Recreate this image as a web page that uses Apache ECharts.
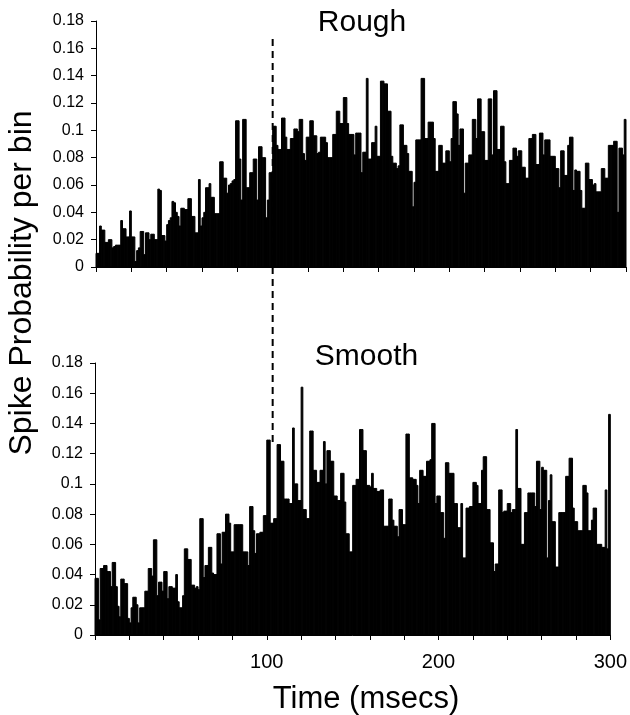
<!DOCTYPE html>
<html><head><meta charset="utf-8">
<script src="https://cdn.jsdelivr.net/npm/echarts/dist/echarts.min.js"></script>
<style>html,body{margin:0;padding:0;background:#fff}#c{width:630px;height:715px}</style>
</head><body><div id="c"></div>
<script>
// Spike probability per 1 ms bin, 0-300 ms
const roughValues = [
0.010,0.010,0.030,0.027,0.027,0.018,0.018,0.020,0.020,0.014,
0.015,0.016,0.016,0.016,0.034,0.028,0.028,0.022,0.022,0.041,
0.022,0.022,0.004,0.012,0.014,0.026,0.026,0.009,0.025,0.025,
0.020,0.024,0.024,0.020,0.020,0.057,0.056,0.023,0.023,0.019,
0.031,0.034,0.036,0.048,0.047,0.040,0.037,0.030,0.043,0.043,
0.042,0.042,0.050,0.050,0.037,0.037,0.025,0.025,0.064,0.030,
0.036,0.040,0.058,0.058,0.061,0.051,0.051,0.039,0.039,0.039,
0.077,0.077,0.065,0.065,0.054,0.060,0.061,0.063,0.064,0.107,
0.107,0.079,0.049,0.108,0.108,0.058,0.058,0.069,0.069,0.079,
0.079,0.049,0.088,0.088,0.080,0.080,0.036,0.049,0.069,0.069,
0.103,0.103,0.089,0.086,0.086,0.109,0.109,0.095,0.086,0.086,
0.094,0.094,0.101,0.101,0.099,0.108,0.108,0.083,0.078,0.095,
0.095,0.107,0.107,0.096,0.096,0.083,0.084,0.095,0.095,0.095,
0.091,0.080,0.080,0.080,0.097,0.097,0.114,0.114,0.105,0.105,
0.124,0.124,0.105,0.097,0.097,0.097,0.082,0.098,0.098,0.098,
0.069,0.084,0.084,0.138,0.079,0.079,0.091,0.091,0.103,0.081,
0.081,0.136,0.136,0.134,0.134,0.114,0.114,0.081,0.076,0.076,
0.072,0.074,0.104,0.104,0.089,0.089,0.083,0.070,0.070,0.044,
0.062,0.093,0.093,0.093,0.138,0.138,0.094,0.094,0.106,0.106,
0.106,0.094,0.070,0.070,0.089,0.089,0.076,0.076,0.085,0.085,
0.077,0.094,0.121,0.121,0.112,0.089,0.101,0.101,0.054,0.076,
0.076,0.082,0.082,0.108,0.108,0.094,0.123,0.123,0.099,0.099,
0.078,0.078,0.123,0.123,0.082,0.129,0.129,0.086,0.086,0.103,
0.103,0.077,0.061,0.061,0.078,0.078,0.087,0.087,0.081,0.085,
0.085,0.073,0.073,0.065,0.065,0.094,0.094,0.097,0.097,0.075,
0.075,0.098,0.098,0.082,0.093,0.093,0.093,0.081,0.081,0.081,
0.072,0.072,0.058,0.085,0.085,0.067,0.067,0.089,0.095,0.095,
0.056,0.071,0.070,0.070,0.056,0.043,0.043,0.076,0.076,0.064,
0.064,0.060,0.061,0.055,0.055,0.055,0.072,0.072,0.065,0.065,
0.089,0.089,0.089,0.092,0.092,0.040,0.087,0.087,0.082,0.108
];
const smoothValues = [
0.0375,0.0375,0.010,0.044,0.044,0.046,0.046,0.042,0.042,0.032,
0.048,0.048,0.032,0.019,0.012,0.037,0.037,0.034,0.034,0.011,
0.008,0.018,0.025,0.025,0.020,0.008,0.018,0.018,0.018,0.029,
0.029,0.044,0.044,0.039,0.063,0.063,0.026,0.035,0.035,0.029,
0.042,0.042,0.024,0.032,0.032,0.031,0.031,0.040,0.022,0.018,
0.018,0.026,0.057,0.057,0.050,0.050,0.033,0.033,0.031,0.032,
0.030,0.077,0.077,0.038,0.046,0.046,0.058,0.058,0.041,0.040,
0.040,0.067,0.067,0.047,0.068,0.068,0.080,0.080,0.074,0.055,
0.055,0.073,0.073,0.073,0.073,0.073,0.055,0.055,0.055,0.046,
0.085,0.085,0.069,0.054,0.067,0.067,0.068,0.068,0.079,0.079,
0.129,0.129,0.074,0.074,0.077,0.077,0.126,0.126,0.115,0.115,
0.090,0.090,0.090,0.087,0.087,0.137,0.100,0.100,0.089,0.089,
0.164,0.083,0.083,0.077,0.077,0.135,0.135,0.109,0.109,0.101,
0.101,0.109,0.109,0.128,0.100,0.122,0.122,0.115,0.115,0.092,
0.092,0.089,0.089,0.107,0.107,0.088,0.067,0.067,0.055,0.055,
0.099,0.099,0.103,0.103,0.136,0.136,0.122,0.122,0.099,0.099,
0.098,0.107,0.097,0.097,0.095,0.095,0.096,0.096,0.072,0.072,
0.072,0.090,0.090,0.076,0.072,0.072,0.065,0.083,0.083,0.073,
0.073,0.133,0.133,0.104,0.104,0.103,0.103,0.099,0.087,0.109,
0.109,0.105,0.105,0.115,0.115,0.116,0.140,0.140,0.087,0.092,
0.092,0.081,0.081,0.064,0.114,0.114,0.107,0.107,0.107,0.087,
0.087,0.071,0.071,0.087,0.051,0.051,0.084,0.084,0.085,0.085,
0.101,0.101,0.099,0.087,0.087,0.109,0.118,0.118,0.083,0.083,
0.061,0.061,0.042,0.047,0.047,0.096,0.096,0.081,0.082,0.082,
0.087,0.087,0.081,0.083,0.083,0.136,0.097,0.097,0.060,0.060,
0.081,0.081,0.094,0.094,0.094,0.094,0.085,0.115,0.115,0.083,
0.111,0.109,0.109,0.051,0.089,0.106,0.075,0.075,0.045,0.045,
0.081,0.081,0.081,0.081,0.105,0.105,0.117,0.117,0.084,0.075,
0.075,0.069,0.069,0.069,0.099,0.099,0.094,0.069,0.069,0.076,
0.084,0.084,0.060,0.060,0.060,0.058,0.058,0.096,0.057,0.146
];
const binWidth = 1; // ms
const xLabelValues = [100, 200, 300];
const stimulusOnset = 100;
const panelTitles = ['Rough', 'Smooth'];
const yAxisTitle = 'Spike Probability per bin';
const xAxisTitle = 'Time (msecs)';

const FONT = "'Liberation Sans', Arial, Helvetica, sans-serif";
const axisLine = { show: true, lineStyle: { color: '#000', width: 1 } };
const axisTick = { show: true, inside: false, length: 5, lineStyle: { color: '#000', width: 1 } };

function xAx(grid, showLabels) {
  return {
    type: 'value', gridIndex: grid, min: 0, max: 300, interval: 20,
    axisLine, axisTick, splitLine: { show: false },
    axisLabel: showLabels ? {
      show: true, fontSize: 20, color: '#000', fontFamily: FONT, margin: 17,
      formatter: v => xLabelValues.includes(v) ? String(v) : ''
    } : { show: false }
  };
}
function yAx(grid) {
  return {
    type: 'value', gridIndex: grid, min: 0, max: 0.18, interval: 0.02,
    axisLine, axisTick, splitLine: { show: false },
    axisLabel: { show: true, fontSize: 16, color: '#000', fontFamily: FONT, margin: 12,
      formatter: v => String(Math.round(v * 100) / 100) }
  };
}
function histSeries(idx, vals) {
  return {
    type: 'custom', xAxisIndex: idx, yAxisIndex: idx, silent: true, z: 2,
    data: vals.map((v, i) => [i * binWidth, v]),
    encode: { x: 0, y: 1 },
    renderItem: function (params, api) {
      const x0 = api.value(0), v = api.value(1);
      const p0 = api.coord([x0, v]);
      const p1 = api.coord([x0 + binWidth, 0]);
      return {
        type: 'rect',
        shape: { x: p0[0], y: p0[1], width: p1[0] - p0[0], height: p1[1] - p0[1] },
        style: { fill: '#000', stroke: '#000', lineWidth: 1 }
      };
    }
  };
}

const chart = echarts.init(document.getElementById('c'), null, { renderer: 'canvas' });
chart.setOption({
  animation: false,
  backgroundColor: '#fff',
  grid: [
    { left: 96, right: 4, top: 21, height: 246 },
    { left: 95, right: 18, top: 363, height: 272 },
    { left: 96, right: 4, top: 36, height: 406 }
  ],
  xAxis: [xAx(0, false), xAx(1, true),
    { type: 'value', gridIndex: 2, min: 0, max: 300, show: false }],
  yAxis: [yAx(0), yAx(1),
    { type: 'value', gridIndex: 2, min: 0, max: 1, show: false }],
  series: [
    histSeries(0, roughValues),
    histSeries(1, smoothValues),
    {
      type: 'line', xAxisIndex: 2, yAxisIndex: 2, symbol: 'none', silent: true, z: 5,
      data: [[stimulusOnset, 0], [stimulusOnset, 1]],
      lineStyle: { color: '#000', width: 2, type: [7, 5] }
    }
  ],
  graphic: [
    { type: 'text', x: 362, y: 22.5, style: { text: panelTitles[0], font: '30px ' + FONT, fill: '#000', textAlign: 'center', textVerticalAlign: 'middle' } },
    { type: 'text', x: 366.5, y: 357, style: { text: panelTitles[1], font: '30px ' + FONT, fill: '#000', textAlign: 'center', textVerticalAlign: 'middle' } },
    { type: 'text', x: 366, y: 699, style: { text: xAxisTitle, font: '31px ' + FONT, fill: '#000', textAlign: 'center', textVerticalAlign: 'middle' } },
    { type: 'text', x: 22, y: 283, rotation: Math.PI / 2, style: { text: yAxisTitle, font: '32px ' + FONT, fill: '#000', textAlign: 'center', textVerticalAlign: 'middle' } }
  ]
});
</script></body></html>
